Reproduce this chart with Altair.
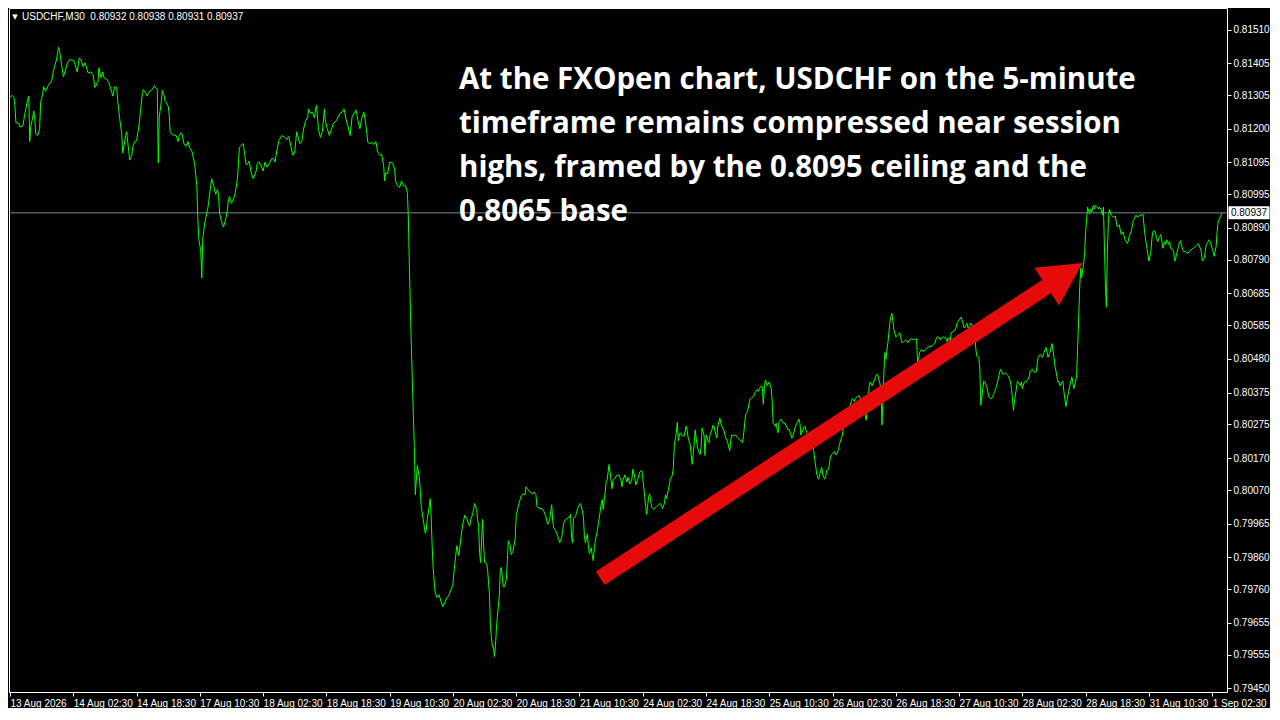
import math
import altair as alt
import pandas as pd

# ---------------- data ----------------
SYMBOL = "USDCHF,M30"
OHLC = ["0.80932", "0.80938", "0.80931", "0.80937"]
LAST_PRICE = 0.80937

X_TICKS = list(range(0, 609, 32))  # one label every 32 M30 bars
X_LABELS = ["13 Aug 2026", "14 Aug 02:30", "14 Aug 18:30", "17 Aug 10:30", "18 Aug 02:30",
            "18 Aug 18:30", "19 Aug 10:30", "20 Aug 02:30", "20 Aug 18:30", "21 Aug 10:30",
            "24 Aug 02:30", "24 Aug 18:30", "25 Aug 10:30", "26 Aug 02:30", "26 Aug 18:30",
            "27 Aug 10:30", "28 Aug 02:30", "28 Aug 18:30", "31 Aug 10:30", "1 Sep 02:30"]
Y_TICKS = [0.81510, 0.81405, 0.81305, 0.81200, 0.81095, 0.80995, 0.80890, 0.80790, 0.80685,
           0.80585, 0.80480, 0.80375, 0.80275, 0.80170, 0.80070, 0.79965, 0.79860, 0.79760,
           0.79655, 0.79555, 0.79450]

ANNOTATION = ["At the FXOpen chart, USDCHF on the 5-minute",
              "timeframe remains compressed near session",
              "highs, framed by the 0.8095 ceiling and the",
              "0.8065 base"]

ARROW_FROM = (298.5, 0.79794)   # (bar, price)
ARROW_TO = (542.5, 0.80780)

# (bar index, close)
SEG_A = [(0,0.81298),(1,0.81305),(2,0.81298),(2.5,0.81271),(3,0.81219),(4.5,0.81216),(5,0.81206),(6.5,0.81209),(7.5,0.81246),(9,0.81292),(9.5,0.81302),(10,0.81160),(10.5,0.81206),(11.5,0.81237),(12,0.81256),(12.5,0.81237),(13,0.81185),(14,0.81179),(15,0.81200),(15.5,0.81283),(16.5,0.81308),(17,0.81332),(18,0.81317),(19.5,0.81338),(21,0.81348),(22,0.81381),(22.5,0.81394),(23.5,0.81415),(24.5,0.81455),(25,0.81449),(25.5,0.81424),(26.5,0.81384),(27,0.81363),(28,0.81381),(29,0.81406),(30,0.81415),(32,0.81415),(32.5,0.81409),(34,0.81378),(35,0.81421),(36,0.81415),(37,0.81394),(38,0.81406),(39.5,0.81375),(41,0.81378),(42,0.81369),(43,0.81329),(44.5,0.81348),(45,0.81391),(46,0.81360),(47,0.81378),(47.5,0.81360),(49,0.81354),(50,0.81345),(51.5,0.81314),(52,0.81302),(53,0.81332),(54,0.81329),(54.5,0.81286),(55.5,0.81231),(56.5,0.81185),(57,0.81124),(58,0.81160),(58.5,0.81179),(59,0.81191),(60,0.81133),(60.5,0.81102),(61.5,0.81114),(62,0.81139),(63,0.81160),(64,0.81163),(65,0.81200),(65.5,0.81225),(66,0.81256),(67,0.81314),(67.5,0.81323),(68.5,0.81314),(69.5,0.81302),(70,0.81314),(72,0.81323),(73,0.81335),(74.5,0.81323),(75,0.81093),(75.5,0.81237),(76.5,0.81283),(77,0.81320),(78,0.81302),(78.5,0.81286),(80,0.81271),(80.5,0.81246),(81,0.81191),(82,0.81182),(84,0.81179),(85,0.81160),(85.5,0.81176),(86.5,0.81188),(87,0.81185),(88,0.81154),(89,0.81145),(90,0.81160),(91,0.81139),(92,0.81130),(93,0.81102),(93.5,0.81084),(94.5,0.81022),(95,0.80918),(95.5,0.80856),(96.5,0.80816),(97,0.80734),(97.5,0.80856)]

SEG_B = [(98.5,0.80906),(100,0.80949),(100.5,0.80973),(101.5,0.81022),(102,0.81044),(103,0.81022),(104,0.80995),(105,0.81010),(105.5,0.80988),(106,0.80936),(107,0.80909),(108,0.80893),(109,0.80915),(110,0.80949),(110.5,0.80979),(111,0.80988),(112,0.80967),(113,0.80979),(114,0.81001),(115,0.81044),(115.5,0.81084),(116,0.81142),(117,0.81148),(118,0.81154),(119,0.81105),(119.5,0.81087),(120.5,0.81093),(121,0.81099),(122,0.81062),(123,0.81044),(124.5,0.81068),(125,0.81090),(126,0.81096),(127,0.81084),(128,0.81068),(129,0.81096),(130,0.81080),(131,0.81090),(132.5,0.81108),(133.5,0.81105),(134,0.81096),(135,0.81133),(136,0.81163),(137.5,0.81179),(139,0.81173),(140,0.81166),(141,0.81176),(142,0.81148),(143,0.81117),(144,0.81127),(145,0.81191),(145.5,0.81179),(146.5,0.81154),(147.5,0.81157),(148.5,0.81200),(149.5,0.81225),(150.5,0.81234),(151,0.81262),(152,0.81249),(153,0.81252),(154,0.81234),(154.5,0.81259),(155,0.81274),(156,0.81200),(157,0.81173),(158,0.81191),(159,0.81262),(159.5,0.81225),(160.5,0.81200),(161.5,0.81179),(162.5,0.81197),(163.5,0.81216),(165,0.81225),(166,0.81237),(167,0.81249),(168,0.81252),(169,0.81262),(170,0.81228),(171,0.81206),(172,0.81179),(173,0.81237),(174,0.81249),(175,0.81259),(176,0.81225),(177,0.81200),(178,0.81237),(179,0.81252),(180,0.81212),(181,0.81157),(182,0.81154),(183,0.81157),(184,0.81151),(185,0.81160),(186,0.81127),(187,0.81117),(188,0.81120),(189,0.81084),(189.5,0.81037),(190,0.81062),(191,0.81059),(192,0.81096),(193.5,0.81093),(194.5,0.81074),(195,0.81037),(196,0.81022),(197,0.81016),(198,0.81037),(198.5,0.81031),(199,0.81022),(200,0.81022),(201,0.81001),(201.5,0.80915),(202,0.80767),(202.5,0.80635),(203,0.80519),(203.5,0.80408),(204,0.80307),(204.5,0.80206),(205,0.80055)]

SEG_C = [(206,0.80147),(207,0.80110),(207.5,0.80071),(208,0.80018),(209,0.79978),(210,0.79935),(210.5,0.79942),(211,0.79978),(212,0.80018),(212.5,0.80043),(213,0.79988),(213.5,0.79896),(214,0.79825),(215,0.79751),(216,0.79733),(217,0.79742),(218,0.79721),(219,0.79705),(220,0.79721),(221,0.79733),(222,0.79742),(223,0.79757),(224,0.79773),(224.5,0.79810),(225,0.79840),(226,0.79896),(226.5,0.79880),(227,0.79865),(228,0.79917),(228.5,0.79942),(229,0.79963),(230,0.79991),(231,0.79981),(232,0.79963),(232.5,0.79957),(233,0.79978),(234,0.79994),(234.5,0.80012),(235,0.80028),(236,0.80009),(236.5,0.79978),(237,0.79957),(237.5,0.79874),(238,0.79843),(239,0.79978),(239.5,0.79905),(240,0.79843),(241,0.79840),(241.5,0.79825),(242.5,0.79742),(243,0.79641),(244,0.79579),(244.5,0.79579),(245,0.79549),(245.5,0.79579),(246,0.79635),(246.5,0.79675),(247,0.79705),(247.5,0.79742),(248,0.79825),(248.5,0.79828),(249,0.79797),(249.5,0.79767),(250,0.79767),(251,0.79788),(251.5,0.79840),(252,0.79911),(253,0.79896),(253.5,0.79868),(254.5,0.79880),(255.5,0.79917),(256,0.79988),(257,0.80018),(258,0.80040),(258.5,0.80052),(259.5,0.80058),(260.5,0.80055),(261,0.80080),(262,0.80071),(263.5,0.80061),(264.5,0.80058),(265,0.80064),(266,0.80055),(266.5,0.80018),(268,0.80012),(269,0.80012),(270,0.80003),(271,0.79988),(271.5,0.79972),(272,0.79963),(273,0.79978),(273.5,0.80003),(274,0.80024),(274.5,0.79972),(275,0.79951),(276,0.79942),(277,0.79926),(277.5,0.79917),(278,0.79905),(279,0.79920),(279.5,0.79942),(280,0.79966),(281,0.79978),(282,0.79981),(283,0.79988),(283.5,0.79994),(284,0.79926),(284.5,0.79905),(285,0.79981),(286,0.79988),(286.5,0.79997),(287,0.80012),(288,0.80024),(288.5,0.80028),(289,0.80018),(290,0.79988),(290.5,0.79926),(291,0.79905),(291.5,0.79917),(292,0.79932),(292.5,0.79896),(293,0.79871),(294,0.79889),(294.5,0.79865),(295,0.79849),(295.5,0.79886),(296,0.79911),(297,0.79942),(297.5,0.79963),(298,0.79981),(299,0.80028),(299.5,0.80040),(300,0.80009),(301,0.80064),(301.5,0.80095),(302,0.80101),(302.5,0.80126),(303,0.80150),(304,0.80101),(304.5,0.80074),(305,0.80101),(306,0.80107),(307,0.80117),(308,0.80117),(309,0.80101),(309.5,0.80080),(310,0.80101),(311,0.80117),(312,0.80095),(312.5,0.80110)]

SEG_D = [(313.5,0.80089),(314.5,0.80101),(315,0.80135),(316,0.80110),(316.5,0.80086),(317.5,0.80104),(318.5,0.80126),(319.5,0.80132),(320,0.80110),(321,0.80049),(321.5,0.80018),(322,0.79994),(323,0.80049),(323.5,0.80058),(324.5,0.80018),(325.5,0.80009),(327,0.80018),(328,0.80024),(329,0.80028),(330,0.80012),(331,0.80028),(331.5,0.80055),(332,0.80043),(333,0.80071),(333.5,0.80089),(334,0.80104),(335,0.80117),(335.5,0.80141),(336,0.80212),(337,0.80249),(337.5,0.80282),(338,0.80224),(338.5,0.80242),(339,0.80249),(340,0.80239),(341,0.80239),(342,0.80270),(342.5,0.80255),(343,0.80233),(344,0.80212),(344.5,0.80181),(345,0.80150),(346,0.80212),(346.5,0.80258),(347,0.80233),(347.5,0.80212),(348,0.80196),(349,0.80181),(349.5,0.80202),(350,0.80264),(351,0.80242),(351.5,0.80178),(352,0.80242),(353,0.80224),(353.5,0.80218),(354,0.80242),(355,0.80258),(355.5,0.80273),(356,0.80270),(357,0.80242),(357.5,0.80233),(358,0.80270),(359,0.80295),(359.5,0.80279),(360,0.80270),(361,0.80258),(362,0.80233),(362.5,0.80227),(363,0.80218),(364,0.80193),(364.5,0.80224),(365,0.80242),(366,0.80239),(367,0.80242),(368,0.80233),(369,0.80227),(370,0.80224),(370.5,0.80218),(371,0.80242),(372,0.80304),(372.5,0.80310),(373,0.80316),(374,0.80347),(374.5,0.80356),(375,0.80359),(376,0.80362),(377,0.80378),(378,0.80384),(378.5,0.80378),(379,0.80387),(380,0.80396),(380.5,0.80393),(381,0.80338),(381.5,0.80387),(382,0.80414),(383,0.80396),(383.5,0.80402),(384,0.80408),(385,0.80387),(385.5,0.80347),(386,0.80279),(387,0.80270),(387.5,0.80279),(388,0.80258),(388.5,0.80249),(389,0.80285),(390,0.80292),(391,0.80279),(392,0.80279),(393,0.80264),(393.5,0.80258),(394,0.80261),(395,0.80242),(395.5,0.80233),(396,0.80239),(397,0.80264),(397.5,0.80273),(398,0.80279),(399,0.80292),(399.5,0.80279),(400,0.80242),(401,0.80258),(402,0.80270),(402.5,0.80258),(403,0.80249),(404,0.80239),(405,0.80227),(406,0.80209),(406.5,0.80193),(407,0.80166),(408,0.80120),(408.5,0.80110),(409,0.80104),(410,0.80132),(410.5,0.80141),(411,0.80120),(412,0.80104),(412.5,0.80110),(413,0.80132),(414,0.80135),(414.5,0.80156),(415,0.80175),(416,0.80184),(417,0.80190),(417.5,0.80181),(418,0.80181),(419,0.80196),(419.5,0.80212),(420,0.80224),(421,0.80242),(421.5,0.80264),(422,0.80288),(423,0.80301),(423.5,0.80304),(424,0.80325),(425,0.80335),(425.5,0.80347),(426,0.80356),(427,0.80347),(427.5,0.80356),(428.5,0.80362),(429.5,0.80365),(430,0.80356),(431,0.80335),(432,0.80316),(432.5,0.80304),(433,0.80288)]

SEG_E = [(434,0.80347),(434.5,0.80393),(435,0.80408),(436,0.80396),(437,0.80411),(438,0.80427),(438.5,0.80433),(439,0.80427),(440,0.80402),(440.5,0.80387),(441,0.80273),(441.5,0.80347),(442,0.80442),(442.5,0.80500),(443,0.80479),(444,0.80531),(444.5,0.80562),(445,0.80596),(446,0.80623),(446.5,0.80602),(447,0.80571),(448,0.80549),(449,0.80556),(450,0.80562),(450.5,0.80549),(451,0.80531),(452,0.80534),(453,0.80540),(454,0.80531),(455,0.80540),(456,0.80543),(457,0.80540),(458.5,0.80543),(459,0.80470),(459.5,0.80479),(460,0.80500),(461,0.80510),(462,0.80503),(463,0.80510),(464,0.80516),(465,0.80519),(466,0.80519),(467,0.80525),(468,0.80531),(468.5,0.80546),(469,0.80549),(470,0.80546),(470.5,0.80540),(471,0.80546),(472,0.80549),(472.5,0.80546),(473,0.80549),(474,0.80534),(474.5,0.80546),(475.5,0.80534),(476,0.80562),(477,0.80565),(478,0.80571),(478.5,0.80580),(479,0.80592),(480,0.80602),(481,0.80611),(482,0.80592),(482.5,0.80577),(483,0.80580),(484,0.80592),(484.5,0.80577),(485,0.80580),(486,0.80592),(486.5,0.80586),(487,0.80571),(488,0.80549),(488.5,0.80510),(489,0.80488),(490,0.80485),(490.5,0.80448),(491,0.80335),(492,0.80387),(492.5,0.80411),(493,0.80408),(494,0.80393),(494.5,0.80378),(495,0.80362),(496,0.80356),(496.5,0.80356),(497,0.80362),(498,0.80378),(498.5,0.80387),(499,0.80396),(500,0.80424),(500.5,0.80439),(501,0.80448),(502,0.80433),(502.5,0.80433),(503,0.80436),(504,0.80433),(505,0.80427),(506,0.80408),(506.5,0.80387),(507,0.80356),(507.5,0.80319),(508,0.80347),(509,0.80387),(509.5,0.80411),(510,0.80408),(511,0.80396),(511.5,0.80408),(512,0.80387),(513,0.80408),(513.5,0.80411),(514,0.80408),(515,0.80417),(515.5,0.80427),(516,0.80442),(517,0.80448),(518,0.80439),(519,0.80439),(519.5,0.80463),(520,0.80485),(521,0.80494),(521.5,0.80491),(522,0.80485),(523,0.80500),(523.5,0.80510),(524,0.80516),(525,0.80485),(525.5,0.80494),(526,0.80500),(527,0.80528),(528,0.80485),(528.5,0.80457),(529,0.80442),(530,0.80408),(530.5,0.80411),(531,0.80396),(532,0.80408),(532.5,0.80411),(533,0.80378),(534,0.80331),(535,0.80365),(535.5,0.80381),(536,0.80396),(537,0.80424),(537.5,0.80408),(538,0.80387),(539,0.80411),(539.5,0.80433),(540,0.80525)]

SEG_F = [(540.5,0.80611),(541,0.80703),(541.5,0.80764),(542,0.80734),(543,0.80780),(543.5,0.80810),(544,0.80878),(545,0.80955),(546,0.80933),(546.5,0.80949),(547,0.80939),(548,0.80961),(548.5,0.80949),(549,0.80961),(550,0.80955),(550.5,0.80949),(551,0.80955),(552,0.80945),(552.5,0.80930),(553,0.80955),(554,0.80715),(554.5,0.80642),(555,0.80816),(555.5,0.80909),(556,0.80949),(557,0.80930),(558,0.80924),(559,0.80927),(559.5,0.80909),(560,0.80893),(561,0.80899),(561.5,0.80884),(562,0.80869),(563,0.80878),(563.5,0.80863),(564,0.80853),(565,0.80841),(565.5,0.80847),(566,0.80863),(567,0.80878),(567.5,0.80893),(568,0.80909),(569,0.80924),(569.5,0.80930),(570,0.80924),(571,0.80927),(571.5,0.80930),(572.5,0.80930),(573,0.80933),(573.5,0.80899),(574,0.80869),(575,0.80826),(575.5,0.80807),(576,0.80786),(577,0.80816),(577.5,0.80856),(578,0.80878),(579,0.80881),(580,0.80856),(580.5,0.80847),(581,0.80856),(582,0.80869),(582.5,0.80853),(583,0.80826),(584,0.80847),(584.5,0.80838),(585,0.80853),(586,0.80838),(586.5,0.80847),(587,0.80826),(588,0.80823),(588.5,0.80816),(589,0.80786),(589.5,0.80792),(590,0.80810),(591,0.80832),(591.5,0.80847),(592,0.80850),(593,0.80823),(593.5,0.80816),(594.5,0.80816),(595.5,0.80810),(596.5,0.80816),(597.5,0.80823),(598.5,0.80826),(599.5,0.80832),(600.5,0.80838),(601,0.80841),(602,0.80826),(602.5,0.80816),(603,0.80786),(604,0.80795),(604.5,0.80816),(605,0.80838),(606,0.80847),(606.5,0.80853),(607,0.80847),(608,0.80826),(608.5,0.80816),(609,0.80801),(610,0.80832),(610.5,0.80878),(611,0.80909),(612,0.80924),(612.5,0.80930),(613,0.80937)]

# ---------------- layout / style ----------------
W, H = 1218, 684
X_DOM = [-0.5, 615.5]
Y_DOM = [0.794381, 0.815779]
GREEN = "#00ff00"
RED = "#e60a0a"
FONT = "Liberation Sans"

rows = SEG_A + SEG_B + SEG_C + SEG_D + SEG_E + SEG_F
df = pd.DataFrame(rows, columns=["t", "close"])
df["i"] = range(len(df))

label_expr = "[" + ",".join("'%s'" % s for s in X_LABELS) + "][round(datum.value / 32)]"

X_SCALE = alt.Scale(domain=X_DOM, nice=False, zero=False)
Y_SCALE = alt.Scale(domain=Y_DOM, nice=False, zero=False)
X_AXIS = alt.Axis(values=X_TICKS, labelExpr=label_expr, labelAlign="left",
                  labelOverlap=False, labelFlush=False, labelPadding=2,
                  tickSize=4, grid=False, domain=False)
Y_AXIS = alt.Axis(orient="right", values=Y_TICKS, format=".5f", labelOverlap=False,
                  labelFlush=False, tickSize=4, labelPadding=2, grid=False,
                  domain=False)


def X(field="t"):
    return alt.X(field + ":Q", scale=X_SCALE, axis=X_AXIS, title=None)


def Y(field="close"):
    return alt.Y(field + ":Q", scale=Y_SCALE, axis=Y_AXIS, title=None)


price_line = alt.Chart(df).mark_line(color=GREEN, strokeWidth=1, clip=True).encode(
    x=X(), y=Y(), order=alt.Order("i:Q"))

last_df = pd.DataFrame({"close": [LAST_PRICE], "label": ["%.5f" % LAST_PRICE]})
bid_line = alt.Chart(last_df).mark_rule(color="#778899", strokeWidth=1).encode(y=Y())

# arrow geometry (computed in pixel space, mapped back through the scales)
sx = W / (X_DOM[1] - X_DOM[0])
sy = H / (Y_DOM[1] - Y_DOM[0])


def to_px(t, p):
    return (t - X_DOM[0]) * sx, (Y_DOM[1] - p) * sy


def to_data(px, py):
    return px / sx + X_DOM[0], Y_DOM[1] - py / sy


fx, fy = to_px(*ARROW_FROM)
tx, ty = to_px(*ARROW_TO)
L = math.hypot(tx - fx, ty - fy)
ux, uy = (tx - fx) / L, (ty - fy) / L
HEAD_LEN, HEAD_HALF = 43.0, 22.5
se_t, se_p = to_data(tx - ux * (HEAD_LEN - 4), ty - uy * (HEAD_LEN - 4))
hc_t, hc_p = to_data(tx - ux * HEAD_LEN / 2, ty - uy * HEAD_LEN / 2)
head_angle = math.degrees(math.atan2(ux, -uy)) % 360
hw = HEAD_HALF / (HEAD_LEN / 2)
head_path = "M0,-1L%.4f,1L-%.4f,1Z" % (hw, hw)

shaft_df = pd.DataFrame({"t": [ARROW_FROM[0]], "close": [ARROW_FROM[1]],
                         "t2": [se_t], "close2": [se_p]})
shaft = alt.Chart(shaft_df).mark_rule(color=RED, strokeWidth=16, strokeCap="butt").encode(
    x=X(), y=Y(), x2="t2:Q", y2="close2:Q")

head_df = pd.DataFrame({"t": [hc_t], "close": [hc_p]})
head = alt.Chart(head_df).mark_point(shape=head_path, filled=True, color=RED, opacity=1,
                                     size=HEAD_LEN ** 2, angle=head_angle, strokeWidth=0).encode(
    x=X(), y=Y())

one = pd.DataFrame({"a": [0]})
note = alt.Chart(one).mark_text(text=ANNOTATION, align="left", baseline="alphabetic",
                                font="Open Sans", fontSize=29.5, fontWeight="bold",
                                lineHeight=44, color="white").encode(
    x=alt.value(450), y=alt.value(81))

title_txt = alt.Chart(one).mark_text(
    text=SYMBOL + "\u00a0 " + " ".join(OHLC), align="left", baseline="middle",
    font=FONT, fontSize=10, color="white").encode(x=alt.value(13), y=alt.value(9))
tri = alt.Chart(one).mark_text(text="\u25bc", align="center", baseline="middle",
                               font="DejaVu Sans", fontSize=7, color="white").encode(
    x=alt.value(6), y=alt.value(9))

box = alt.Chart(last_df).mark_point(shape="M-1.58,-0.5H1.58V0.5H-1.58Z", filled=True,
                                    color="white", opacity=1, size=676, strokeWidth=0).encode(
    x=alt.value(W + 22), y=Y())
box_txt = alt.Chart(last_df).mark_text(align="center", baseline="middle", font=FONT,
                                       fontSize=10, color="black").encode(
    x=alt.value(W + 22), y=Y(), text="label:N")

chart = alt.layer(bid_line, price_line, shaft, head, note, title_txt, tri, box, box_txt).properties(
    width=W, height=H, padding=0, background="black"
).configure_view(stroke="white", strokeWidth=1).configure_axis(
    labelColor="white", tickColor="white", labelFont=FONT, labelFontSize=10
)

chart.save("out.html", embed_options={"renderer": "svg", "actions": False})
